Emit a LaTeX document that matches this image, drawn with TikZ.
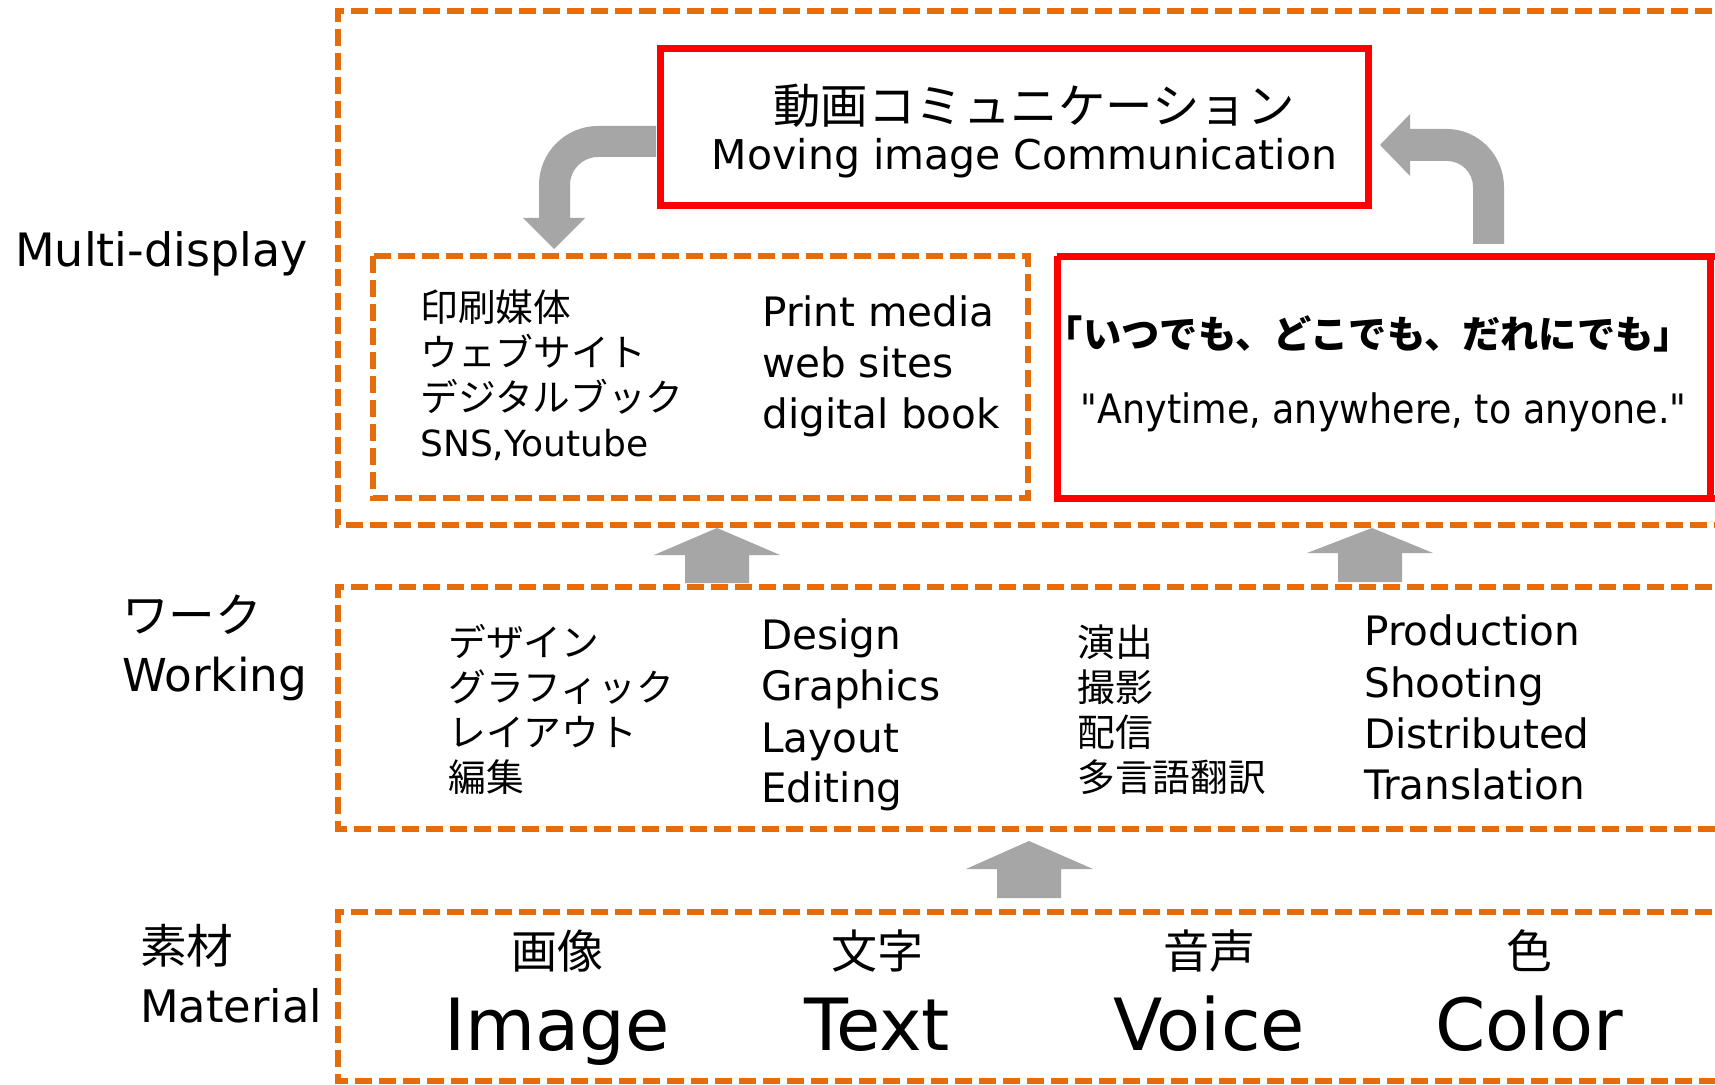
\documentclass[tikz,border=0pt]{standalone}
\usepackage{fontspec}
\setmainfont{DejaVu Sans}
\newfontfamily\jp{Noto Sans CJK JP}
\newfontfamily\cond[FakeStretch=0.9]{DejaVu Sans}
\newcommand\fsz[1]{\fontsize{#1}{#1}\selectfont}
\definecolor{orangeC}{HTML}{E46C0A}
\definecolor{grayA}{HTML}{A6A6A6}
\begin{document}
\begin{tikzpicture}[x=0.75pt,y=-0.75pt,
  obox/.style={draw=orangeC, line width=4pt, dash pattern=on 12.5pt off 5.5pt},
  rbox/.style={draw=red, line width=5.25pt},
  garrow/.style={fill=grayA, draw=none},
  txt/.style={anchor=base west, inner sep=0pt},
  ctxt/.style={anchor=base, inner sep=0pt},
  lab/.style={txt, font=\fsz{34.5pt}},
  jpm/.style={txt, font=\jp\fsz{28.3pt}},
  enm/.style={txt, font=\fsz{30.4pt}}]
\useasboundingbox (0,0) rectangle (1715,1084);
\fill[white] (0,0) rectangle (1715,1084);
% orange dashed boxes
\draw[obox] (1760,11) -- (338,11) -- (338,525) -- (1760,525);
\draw[obox] (373,256) rectangle (1028,498);
\draw[obox] (1760,587) -- (338,587) -- (338,829) -- (1760,829);
\draw[obox] (1760,912) -- (338,912) -- (338,1081) -- (1760,1081);
% curved arrows
\draw[garrow] (656,126) -- (598,126) .. controls (565.4,126) and (539,152.4) .. (539,185)
  -- (539,218) -- (523,218) -- (554,249) -- (585,218) -- (570,218) -- (570,185)
  .. controls (570,169.5) and (582.5,157) .. (598,157) -- (656,157) -- cycle;
\draw[garrow] (1473,244) -- (1473,187) .. controls (1473,172.6) and (1461.4,161) .. (1447,161)
  -- (1410,161) -- (1410,176) -- (1380,145) -- (1410,114) -- (1410,129) -- (1447,129)
  .. controls (1478.5,129) and (1504,155.5) .. (1504,187) -- (1504,244) -- cycle;
% up arrows
\draw[garrow] (685,583) -- (685,555) -- (654,555) -- (717,528) -- (780,555) -- (749,555) -- (749,583) -- cycle;
\draw[garrow] (1338,582) -- (1338,553) -- (1307,553) -- (1372,528) -- (1433,553) -- (1402,553) -- (1402,582) -- cycle;
\draw[garrow] (997,898) -- (997,869) -- (966,869) -- (1029,841) -- (1093,869) -- (1061,869) -- (1061,898) -- cycle;
% red boxes
\draw[rbox] (660,49) rectangle (1368,206);
\draw[rbox] (1057,256) -- (1740,256) (1057,256) -- (1057,498) -- (1740,498);
\draw[rbox] (1710,256) -- (1710,498);
% left labels
\node[lab] (lmd) at (15,266) {Multi-display};
\node[txt, font=\jp\fsz{35pt}] (lwj) at (122,632) {ワーク};
\node[txt, font=\fsz{34pt}] (lwe) at (122,691) {Working};
\node[txt, font=\jp\fsz{35pt}] (lmj) at (140,963) {素材};
\node[txt, font=\fsz{33.6pt}] (lme) at (140,1022) {Material};
% top box text
\node[ctxt, font=\jp\fsz{35.6pt}] (tj) at (1034,124) {動画コミュニケーション};
\node[ctxt, font=\fsz{30.75pt}] (te) at (1024.5,170) {Moving image Communication};
% inner left box
\node[jpm] (a1) at (420,321) {印刷媒体};
\node[jpm] (a2) at (420,366) {ウェブサイト};
\node[jpm] (a3) at (420,411) {デジタルブック};
\node[txt, font=\fsz{27pt}] (a4) at (420,456) {SNS,Youtube};
\node[enm] (b1) at (762,326) {Print media};
\node[enm] (b2) at (762,377) {web sites};
\node[enm] (b3) at (762,428) {digital book};
% right red box
\node[ctxt, font=\jp\bfseries\fsz{28.7pt}] (rj) at (1368.5,348) {「いつでも、どこでも、だれにでも」};
\node[ctxt, font=\cond\fsz{30.4pt}] (re) at (1383.5,423) {"Anytime, anywhere, to anyone."};
% working
\node[jpm] (w1) at (448,656) {デザイン};
\node[jpm] (w2) at (448,701) {グラフィック};
\node[jpm] (w3) at (448,746) {レイアウト};
\node[jpm] (w4) at (448,791) {編集};
\node[enm] (x1) at (761,649) {Design};
\node[enm] (x2) at (761,700) {Graphics};
\node[enm] (x3) at (761,752) {Layout};
\node[enm] (x4) at (761,802) {Editing};
\node[jpm] (y1) at (1077,656) {演出};
\node[jpm] (y2) at (1077,701) {撮影};
\node[jpm] (y3) at (1077,746) {配信};
\node[jpm] (y4) at (1077,791) {多言語翻訳};
\node[enm] (z1) at (1364,645) {Production};
\node[enm] (z2) at (1364,697) {Shooting};
\node[enm] (z3) at (1364,748) {Distributed};
\node[enm] (z4) at (1364,799) {Translation};
% material
\foreach \cx/\j/\e/\n in {557/画像/Image/m1, 877/文字/Text/m2, 1209/音声/Voice/m3, 1529/色/Color/m4}{
  \node[ctxt, font=\jp\fsz{34.5pt}] (\n j) at (\cx,968) {\j};
  \node[ctxt, font=\fsz{54pt}] (\n e) at (\cx,1050) {\e};
}
\end{tikzpicture}
\end{document}
